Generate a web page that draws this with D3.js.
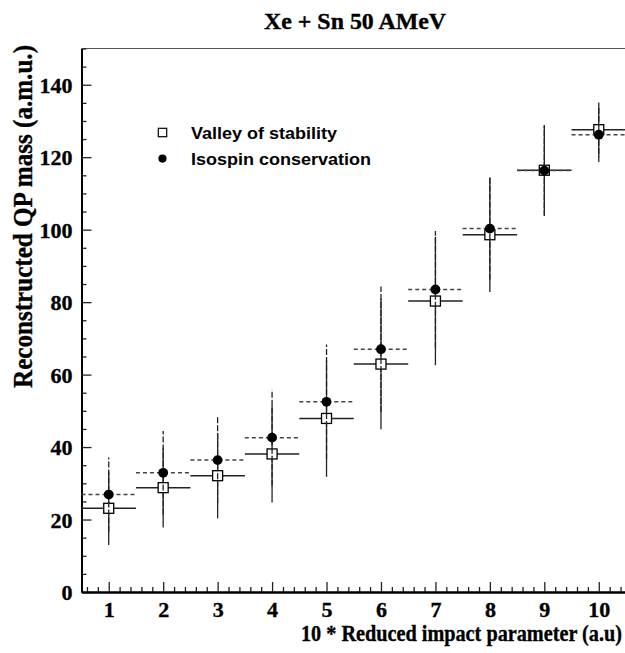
<!DOCTYPE html>
<html>
<head>
<meta charset="utf-8">
<script src="https://cdn.jsdelivr.net/npm/d3@7"></script>
<style>
html, body { margin: 0; padding: 0; background: #fff; }
svg { display: block; }
</style>
</head>
<body>
<svg id="chart" width="625" height="653"></svg>
<script>
// ---- data ----
const bins = [1, 2, 3, 4, 5, 6, 7, 8, 9, 10];
const valley = [23.1, 28.8, 32.1, 38.1, 47.9, 62.9, 80.3, 98.6, 116.4, 127.6];
const valleyErr = [10.1, 11.0, 11.8, 13.4, 16.1, 18.0, 17.7, 15.8, 12.4, 7.5];
const isospin = [26.9, 32.9, 36.4, 42.6, 52.5, 67.0, 83.5, 100.3, 116.3, 126.2];
const isospinErr = [10.2, 11.5, 11.9, 13.3, 15.8, 17.3, 16.1, 14.1, 12.5, 7.5];
const yTicks = [0, 20, 40, 60, 80, 100, 120, 140];
const xTicks = [1, 2, 3, 4, 5, 6, 7, 8, 9, 10];
const seriesNames = ["Valley of stability", "Isospin conservation"];
const titleText = "Xe + Sn 50 AMeV";
const xTitle = "10 * Reduced impact parameter (a.u)";
const yTitle = "Reconstructed QP mass (a.m.u.)";

const svg = d3.select("#chart");
const L = 81.5, R = 626, T = 48.5, B = 592;
const x = d3.scaleLinear().domain([0.5, 10.5]).range([L, R]);
const y = d3.scaleLinear().domain([0, 150]).range([B, T]);
const serif = "'Liberation Serif', 'Times New Roman', serif";
const sans = "'Liberation Sans', Arial, sans-serif";

// frame (top/right)
svg.append("path")
  .attr("d", `M${L},${T}H${R}V${B}`)
  .attr("fill", "none").attr("stroke", "#555").attr("stroke-width", 1.2);

// minor ticks
const yMinor = d3.range(0, 151, 5).filter(v => v % 20 !== 0);
const xMinor = d3.range(0.6, 10.45, 0.2).filter(v => Math.abs(v - Math.round(v)) > 0.05);

const gyMinor = svg.append("g").attr("transform", `translate(${L},0)`)
  .call(d3.axisLeft(y).tickValues(yMinor).tickSize(-5).tickFormat("").tickSizeOuter(0));
const gxMinor = svg.append("g").attr("transform", `translate(0,${B})`)
  .call(d3.axisBottom(x).tickValues(xMinor).tickSize(-5).tickFormat("").tickSizeOuter(0));

const gy = svg.append("g").attr("transform", `translate(${L},0)`)
  .call(d3.axisLeft(y).tickValues(yTicks).tickSize(-10).tickPadding(9).tickSizeOuter(0));
const gx = svg.append("g").attr("transform", `translate(0,${B})`)
  .call(d3.axisBottom(x).tickValues(xTicks).tickSize(-10).tickPadding(25).tickSizeOuter(0));

[gyMinor, gxMinor, gy, gx].forEach(g => {
  g.selectAll("line").attr("stroke", "#222").attr("stroke-width", 1.3);
  g.select(".domain").attr("stroke", "#000").attr("stroke-width", 1.8);
});
[gy, gx].forEach(g => {
  g.selectAll("text").attr("font-family", serif).attr("font-weight", "bold")
    .attr("font-size", 22).attr("fill", "#000")
    .attr("stroke", "#000").attr("stroke-width", 0.35);
});
gy.selectAll("text").attr("dy", "0.34em");
gx.selectAll("text").attr("dy", "0");

// error bars + markers
function drawSeries(vals, errs, dashed) {
  const g = svg.append("g");
  const dash = dashed ? "4,3" : null;
  g.selectAll(".h").data(bins).join("line")
    .attr("x1", (d) => x(d - 0.5)).attr("x2", (d) => x(d + 0.5))
    .attr("y1", (d, i) => y(vals[i])).attr("y2", (d, i) => y(vals[i]))
    .attr("stroke", dashed ? "#444" : "#222").attr("stroke-width", 1.5)
    .attr("stroke-dasharray", dash);
  g.selectAll(".v").data(bins).join("line")
    .attr("x1", (d) => x(d)).attr("x2", (d) => x(d))
    .attr("y1", (d, i) => y(vals[i] - errs[i])).attr("y2", (d, i) => y(vals[i] + errs[i]))
    .attr("stroke", "#222").attr("stroke-width", 1.3)
    .attr("stroke-dasharray", dashed ? "6,2" : null);
  return g;
}
const gV = drawSeries(valley, valleyErr, false);
const gI = drawSeries(isospin, isospinErr, true);

gV.selectAll("rect").data(bins).join("rect")
  .attr("x", (d) => x(d) - 5).attr("y", (d, i) => y(valley[i]) - 5)
  .attr("width", 10).attr("height", 10)
  .attr("fill", "#fff").attr("stroke", "#000").attr("stroke-width", 1.3);
gI.selectAll("circle").data(bins).join("circle")
  .attr("cx", (d) => x(d)).attr("cy", (d, i) => y(isospin[i]))
  .attr("r", 4.9).attr("fill", "#000");

// legend
const lg = svg.append("g");
lg.append("rect").attr("x", 158.3).attr("y", 128.3).attr("width", 8.4).attr("height", 8.4)
  .attr("fill", "#fff").attr("stroke", "#000").attr("stroke-width", 1.2);
lg.append("circle").attr("cx", 162.5).attr("cy", 158.6).attr("r", 4.1).attr("fill", "#000");
lg.append("text").attr("x", 191).attr("y", 138.5).text(seriesNames[0])
  .attr("font-family", sans).attr("font-weight", "bold").attr("font-size", 16.5)
  .attr("textLength", 146).attr("lengthAdjust", "spacingAndGlyphs");
lg.append("text").attr("x", 191).attr("y", 164.5).text(seriesNames[1])
  .attr("font-family", sans).attr("font-weight", "bold").attr("font-size", 16.5)
  .attr("textLength", 180).attr("lengthAdjust", "spacingAndGlyphs");

// titles
svg.append("text").attr("x", 355).attr("y", 29).attr("text-anchor", "middle")
  .text(titleText).attr("font-family", serif).attr("font-weight", "bold")
  .attr("font-size", 23).attr("textLength", 182).attr("lengthAdjust", "spacingAndGlyphs")
  .attr("stroke", "#000").attr("stroke-width", 0.35);
svg.append("text").attr("transform", "translate(622,641) scale(0.88,1)")
  .attr("text-anchor", "end")
  .text(xTitle).attr("font-family", serif).attr("font-weight", "bold")
  .attr("font-size", 23)
  .attr("stroke", "#000").attr("stroke-width", 0.35);
svg.append("text").attr("transform", "translate(32,216.5) rotate(-90)")
  .attr("text-anchor", "middle")
  .text(yTitle).attr("font-family", serif).attr("font-weight", "bold")
  .attr("font-size", 27).attr("textLength", 343).attr("lengthAdjust", "spacingAndGlyphs")
  .attr("stroke", "#000").attr("stroke-width", 0.35);
</script>
</body>
</html>
